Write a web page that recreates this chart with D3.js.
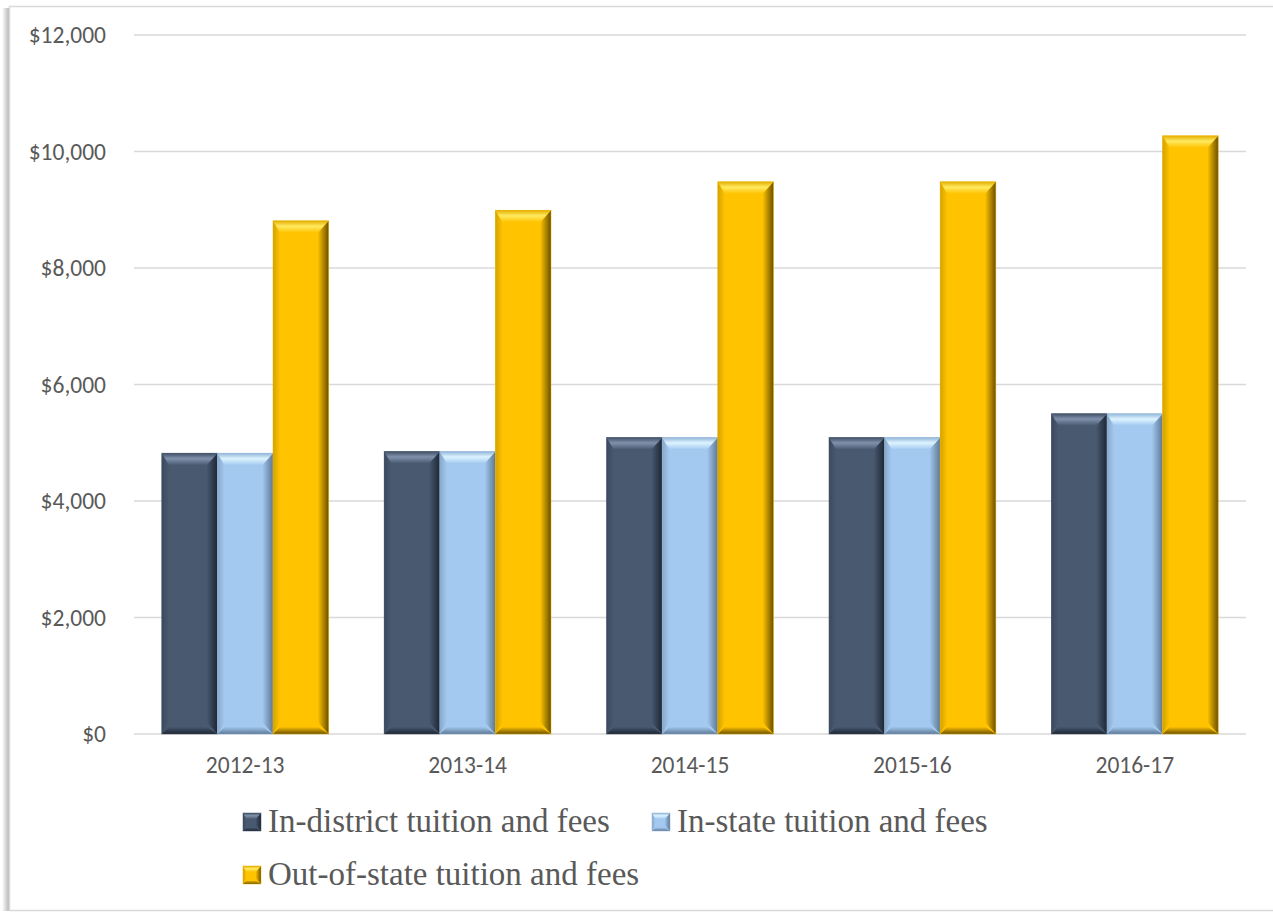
<!DOCTYPE html>
<html>
<head>
<meta charset="utf-8">
<script src="https://cdn.jsdelivr.net/npm/d3@7"></script>
<style>
  html, body { margin: 0; padding: 0; background: #fff; }
  svg { display: block; }
</style>
</head>
<body>
<svg id="chart" width="1273" height="913"></svg>
<script>
const categories = ["2012-13", "2013-14", "2014-15", "2015-16", "2016-17"];
const seriesNames = ["In-district tuition and fees", "In-state tuition and fees", "Out-of-state tuition and fees"];
const inDistrict = [4820, 4850, 5090, 5090, 5500];
const inState = [4820, 4850, 5090, 5090, 5500];
const outOfState = [8810, 8990, 9480, 9480, 10270];
const yTicks = [0, 2000, 4000, 6000, 8000, 10000, 12000];

const seriesValues = [inDistrict, inState, outOfState];
const colors = ["#485970", "#A3C9F0", "#FFC300"];
const lightColors = ["#8091AC", "#DDF4FF", "#FFEA60"];
const darkColors = ["#1E2633", "#5E7894", "#6B5000"];

const svg = d3.select("#chart");
const defs = svg.append("defs");
const tickFont = "Carlito, Lato, 'Open Sans', sans-serif";

// frame with left shadow
const sh = defs.append("linearGradient").attr("id", "lshadow").attr("x1", 0).attr("x2", 1);
sh.append("stop").attr("offset", 0).attr("stop-color", "#fff");
sh.append("stop").attr("offset", 1).attr("stop-color", "#b8b8b8");
svg.append("rect").attr("x", 2).attr("y", 8).attr("width", 7).attr("height", 903).attr("fill", "url(#lshadow)");
svg.append("rect").attr("x", 9.5).attr("y", 6.5).attr("width", 1275).attr("height", 904)
  .attr("fill", "#fff").attr("stroke", "#d9d9d9").attr("stroke-width", 1.5);

const margin = { left: 134, right: 1246, top: 35, bottom: 734 };
const x = d3.scaleBand().domain(categories).range([margin.left, margin.right]).paddingInner(0.25).paddingOuter(0.125);
const xs = d3.scaleBand().domain(d3.range(3)).range([0, x.bandwidth()]);
const y = d3.scaleLinear().domain([0, 12000]).range([margin.bottom, margin.top]);

// gridlines
svg.append("g").selectAll("line").data(yTicks).join("line")
  .attr("x1", margin.left).attr("x2", margin.right)
  .attr("y1", d => y(d)).attr("y2", d => y(d))
  .attr("stroke", "#d9d9d9").attr("stroke-width", 1.5);

// y axis labels
const yAxis = d3.axisLeft(y).tickValues(yTicks).tickSize(0).tickPadding(0)
  .tickFormat(d => "$" + d3.format(",")(d));
const gy = svg.append("g").attr("transform", `translate(106,0)`).call(yAxis);
gy.select(".domain").remove();
gy.selectAll("text").attr("font-family", tickFont).attr("font-size", 23.5).attr("fill", "#595959");

// x axis labels
const xAxis = d3.axisBottom(x).tickSize(0).tickPadding(0);
const gx = svg.append("g").attr("transform", `translate(0,773)`).call(xAxis);
gx.select(".domain").remove();
gx.selectAll("text").attr("dy", 0).attr("font-family", tickFont).attr("font-size", 23.5).attr("fill", "#595959");

// gradients for bevel sides
colors.forEach((c, i) => {
  const gr = defs.append("linearGradient").attr("id", "rg" + i).attr("x1", 0).attr("x2", 1);
  gr.append("stop").attr("offset", 0).attr("stop-color", c);
  gr.append("stop").attr("offset", 1).attr("stop-color", darkColors[i]);
  const gl = defs.append("linearGradient").attr("id", "lg" + i).attr("x1", 0).attr("x2", 1);
  gl.append("stop").attr("offset", 0).attr("stop-color", d3.color(c).darker(0.5));
  gl.append("stop").attr("offset", 1).attr("stop-color", c);
  const gt = defs.append("linearGradient").attr("id", "tg" + i).attr("x1", 0).attr("x2", 0).attr("y1", 0).attr("y2", 1);
  gt.append("stop").attr("offset", 0).attr("stop-color", d3.color(c).darker(0.3));
  gt.append("stop").attr("offset", 0.45).attr("stop-color", lightColors[i]);
  gt.append("stop").attr("offset", 1).attr("stop-color", c);
  const gb = defs.append("linearGradient").attr("id", "bg" + i).attr("x1", 0).attr("x2", 0).attr("y1", 0).attr("y2", 1);
  gb.append("stop").attr("offset", 0).attr("stop-color", c);
  gb.append("stop").attr("offset", 1).attr("stop-color", darkColors[i]);
});

function bevelBar(g, x0, y0, w, h, i, b) {
  b = Math.min(b, w / 2, h / 2);
  g.append("rect").attr("x", x0).attr("y", y0).attr("width", w).attr("height", h).attr("fill", colors[i]);
  const pts = a => a.map(p => p.join(",")).join(" ");
  g.append("polygon").attr("points", pts([[x0, y0], [x0 + b * 0.6, y0 + b], [x0 + b * 0.6, y0 + h - b], [x0, y0 + h]])).attr("fill", `url(#lg${i})`);
  g.append("polygon").attr("points", pts([[x0 + w, y0], [x0 + w - b * 0.9, y0 + b], [x0 + w - b * 0.9, y0 + h - b], [x0 + w, y0 + h]])).attr("fill", `url(#rg${i})`);
  g.append("polygon").attr("points", pts([[x0, y0], [x0 + w, y0], [x0 + w - b * 0.9, y0 + b], [x0 + b * 0.6, y0 + b]])).attr("fill", `url(#tg${i})`);
  g.append("polygon").attr("points", pts([[x0, y0 + h], [x0 + w, y0 + h], [x0 + w - b * 0.9, y0 + h - b * 0.6], [x0 + b * 0.6, y0 + h - b * 0.6]])).attr("fill", `url(#bg${i})`);
  g.append("rect").attr("x", x0).attr("y", y0).attr("width", w).attr("height", h)
    .attr("fill", "none").attr("stroke", d3.color(colors[i]).darker(0.3)).attr("stroke-width", 0.8).attr("opacity", 0.6);
}

const barsG = svg.append("g");
categories.forEach((cat, ci) => {
  seriesValues.forEach((vals, si) => {
    const x0 = x(cat) + xs(si);
    const y0 = y(vals[ci]);
    bevelBar(barsG, x0, y0, xs.bandwidth(), y(0) - y0, si, 12);
  });
});

// legend
const legendItems = [
  { i: 0, x: 243, y: 813 },
  { i: 1, x: 652, y: 813 },
  { i: 2, x: 243, y: 866 }
];
const lg = svg.append("g");
legendItems.forEach(it => {
  bevelBar(lg, it.x, it.y, 18, 18, it.i, 6);
  lg.append("text").attr("x", it.x + 25).attr("y", it.y + 19)
    .attr("font-family", "'Liberation Serif', 'DejaVu Serif', serif").attr("font-size", 33)
    .attr("fill", "#595959").text(seriesNames[it.i]);
});
</script>
</body>
</html>
